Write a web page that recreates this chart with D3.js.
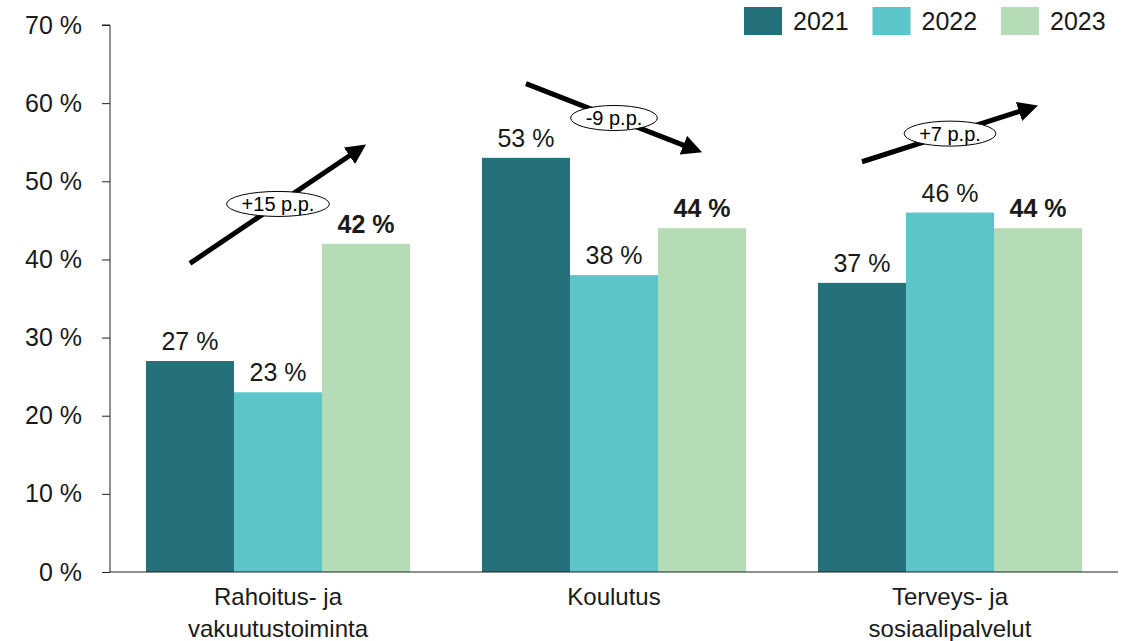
<!DOCTYPE html>
<html>
<head>
<meta charset="utf-8">
<script src="https://cdn.jsdelivr.net/npm/d3@7"></script>
<style>
  body { margin: 0; background: #fff; }
  svg text { font-family: "Liberation Sans", Arial, sans-serif; fill: #1a1a1a; }
</style>
</head>
<body>
<svg id="chart" width="1132" height="641"></svg>
<script>
const categories = [["Rahoitus- ja", "vakuutustoiminta"], ["Koulutus"], ["Terveys- ja", "sosiaalipalvelut"]];
const years = ["2021", "2022", "2023"];
const values2021 = [27, 53, 37];
const values2022 = [23, 38, 46];
const values2023 = [42, 44, 44];
const yTicks = [0, 10, 20, 30, 40, 50, 60, 70];
// arrow annotation: start / end level in %, label
const arrowFrom = [39.5, 62.5, 52.5];
const arrowTo = [54.7, 53.7, 59.7];
const arrowLabels = ["+15 p.p.", "-9 p.p.", "+7 p.p."];

const colors = ["#24717b", "#5bc5c9", "#b6dcb7"];
const series = [values2021, values2022, values2023];

const chart = d3.select("#chart");
const margin = {left: 110, right: 14, top: 25, bottom: 69};
const width = 1132, height = 641;

const x = d3.scaleBand()
  .domain(d3.range(categories.length))
  .range([margin.left, width - margin.right])
  .paddingInner(0.214)
  .paddingOuter(0.107);
const xs = d3.scaleBand().domain(years).range([0, x.bandwidth()]);
const y = d3.scaleLinear().domain([0, 70]).range([height - margin.bottom, margin.top]);

// y axis
const yAxis = d3.axisLeft(y).tickValues(yTicks).tickSize(8).tickFormat(d => d + " %");
const gy = chart.append("g").attr("transform", `translate(${margin.left},0)`).call(yAxis);
gy.select(".domain").attr("stroke", "#222").attr("d", `M-8,${y(70)}H0V${y(0)}`);
gy.selectAll(".tick line").attr("stroke", "#222");
gy.selectAll(".tick text").attr("x", -28).style("font-size", "25px").style("fill", "#1a1a1a");

// bars
categories.forEach((c, i) => {
  const g = chart.append("g").attr("transform", `translate(${x(i)},0)`);
  years.forEach((yr, j) => {
    const v = series[j][i];
    g.append("rect")
      .attr("x", xs(yr))
      .attr("y", y(v))
      .attr("width", xs.bandwidth())
      .attr("height", y(0) - y(v))
      .attr("fill", colors[j]);
    g.append("text")
      .attr("x", xs(yr) + xs.bandwidth() / 2)
      .attr("y", y(v) - 11)
      .attr("text-anchor", "middle")
      .style("font-size", "25px")
      .style("font-weight", j === 2 ? "bold" : "normal")
      .text(v + " %");
  });
});

// x axis
const gx = chart.append("g").attr("transform", `translate(0,${y(0)})`);
gx.append("line").attr("x1", margin.left).attr("x2", width - margin.right)
  .attr("stroke", "#222").attr("stroke-width", 1);
categories.forEach((c, i) => {
  const t = gx.append("text")
    .attr("x", x(i) + x.bandwidth() / 2)
    .attr("y", 33)
    .attr("text-anchor", "middle")
    .style("font-size", "24px");
  c.forEach((line, k) => {
    t.append("tspan").attr("x", x(i) + x.bandwidth() / 2).attr("dy", k === 0 ? 0 : 32).text(line);
  });
});

// arrows
const defs = chart.append("defs");
defs.append("marker")
  .attr("id", "head")
  .attr("viewBox", "0 0 10 10")
  .attr("refX", 2).attr("refY", 5)
  .attr("markerWidth", 4).attr("markerHeight", 4)
  .attr("orient", "auto")
  .append("path").attr("d", "M0,0L10,5L0,10z").attr("fill", "#000");

categories.forEach((c, i) => {
  const x1 = x(i) + xs(years[0]) + xs.bandwidth() / 2;
  const x2 = x(i) + xs(years[2]) + xs.bandwidth() / 2;
  const y1 = y(arrowFrom[i]), y2 = y(arrowTo[i]);
  const ang = Math.atan2(y2 - y1, x2 - x1);
  const shorten = 16;
  chart.append("line")
    .attr("x1", x1).attr("y1", y1)
    .attr("x2", x2 - shorten * Math.cos(ang)).attr("y2", y2 - shorten * Math.sin(ang))
    .attr("stroke", "#000").attr("stroke-width", 5)
    .attr("marker-end", "url(#head)");
  const mx = (x1 + x2) / 2, my = (y1 + y2) / 2;
  const el = chart.append("ellipse")
    .attr("cx", mx).attr("cy", my)
    .attr("ry", 12.5)
    .attr("fill", "#fff").attr("stroke", "#000").attr("stroke-width", 1);
  const lbl = chart.append("text")
    .attr("x", mx).attr("y", my + 7)
    .attr("text-anchor", "middle")
    .style("font-size", "20px")
    .style("fill", "#000")
    .text(arrowLabels[i]);
  el.attr("rx", lbl.node().getComputedTextLength() / 2 + 15);
});

// legend
const legend = chart.append("g").attr("transform", "translate(744,7)");
years.forEach((yr, j) => {
  const lg = legend.append("g").attr("transform", `translate(${j * 128.5},0)`);
  lg.append("rect").attr("width", 38).attr("height", 28).attr("fill", colors[j]);
  lg.append("text").attr("x", 49).attr("y", 23).style("font-size", "25px").text(yr);
});
</script>
</body>
</html>
